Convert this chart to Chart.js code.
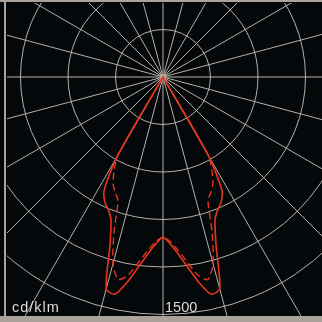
<!DOCTYPE html>
<html>
<head>
<meta charset="utf-8">
<script src="https://cdn.jsdelivr.net/npm/chart.js@4.4.1/dist/chart.umd.min.js"></script>
<style>
  html, body { margin: 0; padding: 0; background: #04080a; }
  #wrap { position: relative; width: 322px; height: 322px; overflow: hidden; background: #04080a; }
  #plot { position: absolute; left: 7px; top: 3px; width: 315px; height: 313px; overflow: hidden; }
  #plot canvas { position: absolute; left: -129px; top: -211px; }
  .frame { position: absolute; background: #aaa39c; }
  .lbl { position: absolute; font-family: "Liberation Sans", Arial, sans-serif; font-size: 14.5px; line-height: 14.5px; color: #dedad6; white-space: nowrap; }
</style>
</head>
<body>
<div id="wrap">
  <div id="plot"><canvas id="polar" width="570" height="570"></canvas></div>
  <div class="frame" style="left:0;top:0;width:322px;height:2px"></div>
  <div class="frame" style="left:4px;top:0;width:2px;height:322px"></div>
  <div class="frame" style="left:0;top:316px;width:322px;height:6px"></div>
  <div class="lbl" style="left:12px;top:300px;letter-spacing:1px">cd/klm</div>
  <div class="lbl" style="left:165px;top:300px">1500</div>
</div>
<script>
// gamma angle (deg from nadir) and intensity in cd/klm
// beyond the last angle the intensity is 0
const gammaDeg     = [0,    2.5,  5,    7.5,  10,   12.5, 15,   17.5, 20,  22.5, 25,  27.5, 30,  32.5, 35];
const planeC0C180  = [1013, 1055, 1125, 1215, 1320, 1405, 1385, 1115, 960, 905,  870, 805,  570, 0,    0];  // solid
const planeC90C270 = [1013, 1040, 1100, 1180, 1270, 1310, 1220, 1030, 830, 790,  745, 670,  570, 0,    0];  // dashed

const scaleMax = 1800;      // circles every 300, 1500 is the last one shown
const circleStep = 300;
const angleStep = 2.5;

const gridColor = '#b9b1a8';
const red = '#e8341c';

// labels go clockwise from the bottom (left half = C180 / C270, right half = C0 / C90)
const labels = [];
for (let a = 0; a < 360; a += angleStep) labels.push(a);

function valueAt(arr, a) {
    const g = a <= 180 ? a : 360 - a;
    const i = gammaDeg.indexOf(g);
    return i >= 0 ? arr[i] : 0;
}

const solid = labels.map(a => valueAt(planeC0C180, a));
const dashed = labels.map(a => valueAt(planeC90C270, a));

new Chart(document.getElementById('polar'), {
    type: 'radar',
    data: {
        labels: labels,
        datasets: [{
            data: solid,
            borderColor: red,
            borderWidth: 1.6,
            pointRadius: 0,
            fill: false,
            tension: 0.25
        }, {
            data: dashed,
            borderColor: red,
            borderWidth: 1.4,
            borderDash: [7, 4],
            pointRadius: 0,
            fill: false,
            tension: 0.25
        }]
    },
    options: {
        responsive: false,
        animation: false,
        layout: { padding: 0 },
        plugins: {
            legend: { display: false },
            tooltip: { enabled: false }
        },
        scales: {
            r: {
                min: 0,
                max: scaleMax,
                startAngle: 180,
                ticks: { display: false, stepSize: circleStep },
                pointLabels: { display: false },
                grid: {
                    circular: true,
                    lineWidth: 1,
                    color: ctx => (ctx.tick && ctx.tick.value >= scaleMax) ? 'rgba(0,0,0,0)' : gridColor
                },
                angleLines: {
                    lineWidth: ctx => ctx.index % 6 === 0 ? 1 : 0,
                    color: gridColor
                }
            }
        }
    }
});
</script>
</body>
</html>
